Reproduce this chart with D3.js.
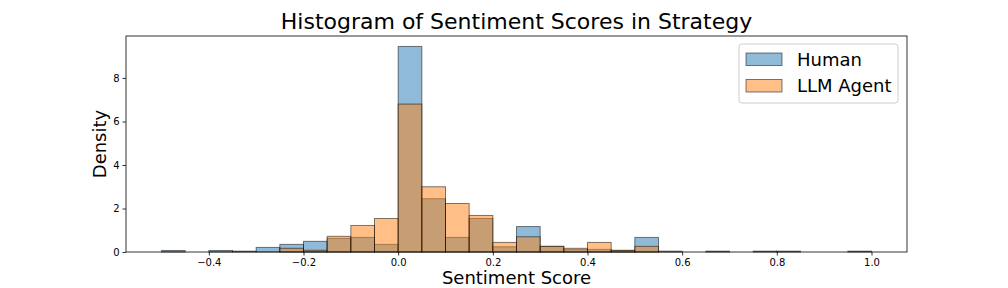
<!DOCTYPE html>
<html>
<head>
<meta charset="utf-8">
<script src="https://cdn.jsdelivr.net/npm/d3@7"></script>
<style>
  html, body { margin: 0; padding: 0; background: #fff; }
  svg { display: block; font-family: "DejaVu Sans", sans-serif; }
</style>
</head>
<body>
<svg id="chart" width="1008" height="288"></svg>
<script>
// ---- data ----
const binStart = -0.5;
const binWidth = 0.05;
const humanDensity = [0.07, 0, 0.07, 0.04, 0.21, 0.35, 0.49, 0.63, 0.67, 0.35,
                      9.45, 2.45, 0.67, 1.54, 0.24, 1.17, 0.26, 0.11, 0.12, 0.07,
                      0.67, 0, 0, 0.04, 0, 0.04, 0.04, 0, 0, 0.04];
const llmDensity =   [0, 0, 0, 0, 0, 0.17, 0.08, 0.72, 1.22, 1.54,
                      6.80, 3.00, 2.23, 1.68, 0.44, 0.70, 0.26, 0.17, 0.44, 0.08,
                      0.26, 0.04, 0, 0, 0, 0, 0, 0, 0, 0];
const seriesNames = ["Human", "LLM Agent"];
const xTicks = [-0.4, -0.2, 0.0, 0.2, 0.4, 0.6, 0.8, 1.0];
const yTicks = [0, 2, 4, 6, 8];
const titleText = "Histogram of Sentiment Scores in Strategy";
const xLabel = "Sentiment Score";
const yLabel = "Density";

// ---- layout ----
const svg = d3.select("#chart");
const L = 126, R = 907, T = 36, B = 252;
const x = d3.scaleLinear().domain([-0.575, 1.075]).range([L, R]);
const y = d3.scaleLinear().domain([0, 9.93]).range([B, T]);
const colors = ["#1f77b4", "#ff7f0e"];

function drawHist(data, color) {
  const bins = data.map((v, i) => ({x0: binStart + i * binWidth, x1: binStart + (i + 1) * binWidth, v}))
                   .filter(d => d.v > 0);
  svg.append("g").selectAll("rect").data(bins).join("rect")
    .attr("x", d => x(d.x0))
    .attr("width", d => x(d.x1) - x(d.x0))
    .attr("y", d => y(d.v))
    .attr("height", d => y(0) - y(d.v))
    .attr("fill", color).attr("fill-opacity", 0.5)
    .attr("stroke", "#000").attr("stroke-opacity", 0.5).attr("stroke-width", 1);
}
drawHist(humanDensity, colors[0]);
drawHist(llmDensity, colors[1]);

// axes
const xAxis = d3.axisBottom(x).tickValues(xTicks).tickSize(3.5).tickPadding(3)
  .tickFormat(d => d3.format(".1f")(d).replace("-", "\u2212"));
const gx = svg.append("g").attr("transform", `translate(0,${B})`).call(xAxis);
const yAxis = d3.axisLeft(y).tickValues(yTicks).tickSize(3.5).tickPadding(3).tickFormat(d3.format("d"));
const gy = svg.append("g").attr("transform", `translate(${L},0)`).call(yAxis);
[gx, gy].forEach(g => {
  g.select(".domain").remove();
  g.selectAll("line").attr("stroke", "#000").attr("stroke-width", 0.8);
  g.selectAll("text").attr("font-size", 10).attr("fill", "#000").attr("font-family", "DejaVu Sans");
});

// spines
svg.append("rect").attr("x", L).attr("y", T).attr("width", R - L).attr("height", B - T)
  .attr("fill", "none").attr("stroke", "#000").attr("stroke-width", 0.8);

// title & labels
svg.append("text").attr("x", (L + R) / 2).attr("y", 29).attr("text-anchor", "middle")
  .attr("font-size", 22).text(titleText);
svg.append("text").attr("x", (L + R) / 2).attr("y", 284).attr("text-anchor", "middle")
  .attr("font-size", 18).text(xLabel);
svg.append("text").attr("transform", `translate(106,${(T + B) / 2}) rotate(-90)`)
  .attr("text-anchor", "middle").attr("font-size", 18).text(yLabel);

// legend
const lg = svg.append("g");
lg.append("rect").attr("x", 739).attr("y", 44).attr("width", 159).attr("height", 59)
  .attr("rx", 3).attr("fill", "#fff").attr("fill-opacity", 0.8)
  .attr("stroke", "#cccccc").attr("stroke-width", 1);
seriesNames.forEach((name, i) => {
  const yy = 53 + i * 26.5;
  lg.append("rect").attr("x", 746).attr("y", yy).attr("width", 36).attr("height", 12.5)
    .attr("fill", colors[i]).attr("fill-opacity", 0.5)
    .attr("stroke", "#000").attr("stroke-opacity", 0.5).attr("stroke-width", 1);
  lg.append("text").attr("x", 797).attr("y", yy + 12.5).attr("font-size", 18).text(name);
});
</script>
</body>
</html>
